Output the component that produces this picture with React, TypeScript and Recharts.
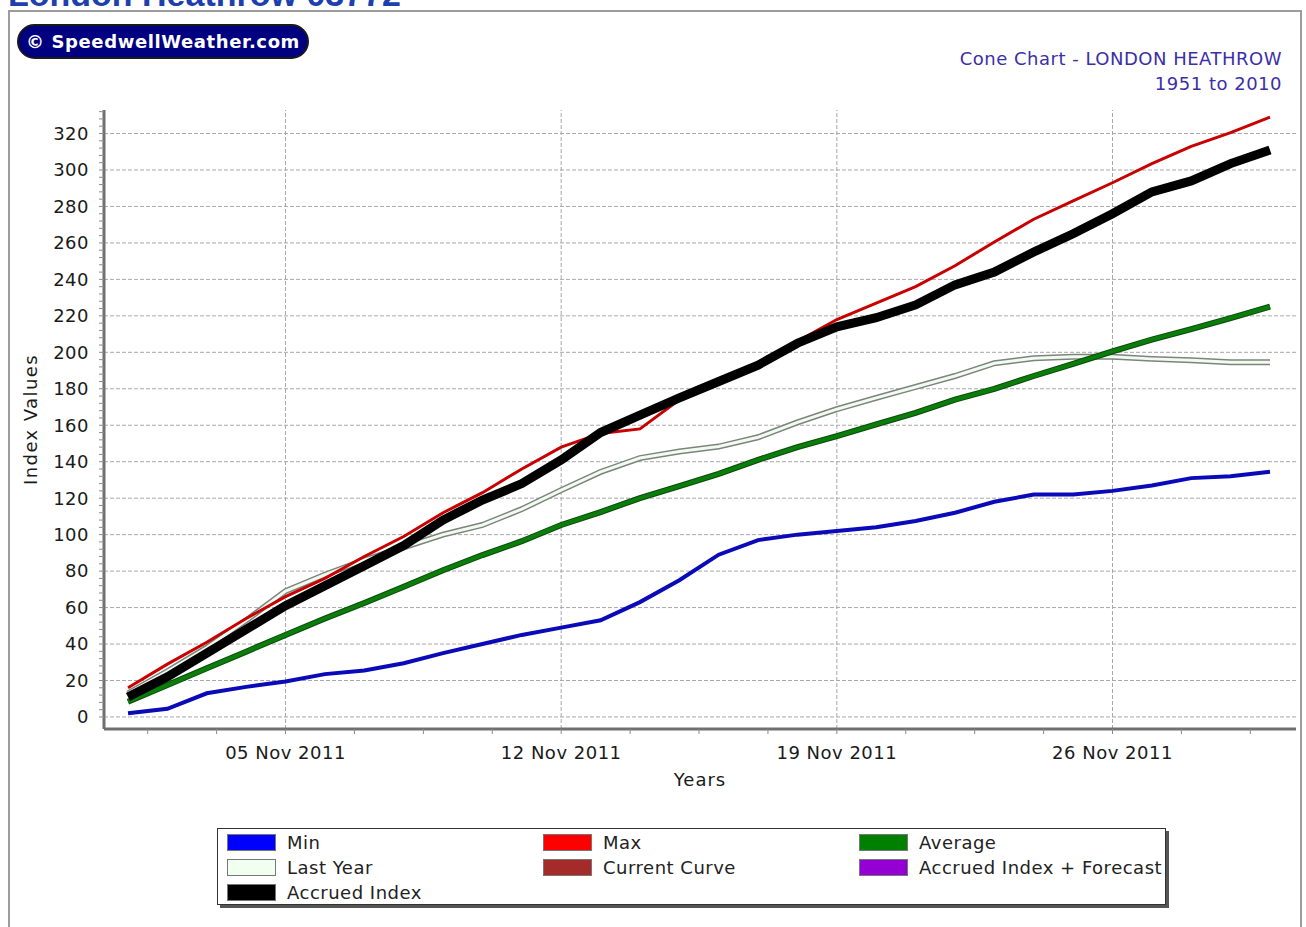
import { LineChart, Line, XAxis, YAxis, ReferenceLine, Label } from "recharts";

const days = [1, 2, 3, 4, 5, 6, 7, 8, 9, 10, 11, 12, 13, 14, 15, 16, 17, 18, 19, 20, 21, 22, 23, 24, 25, 26, 27, 28, 29, 30];
const minValues = [2, 4.5, 13, 16.5, 19.5, 23.5, 25.5, 29.5, 35, 40, 45, 49, 53, 63, 75, 89, 97, 100, 102, 104, 107.5, 112, 118, 122, 122, 124, 127, 131, 132, 134.5];
const maxValues = [16, 29, 41, 54, 66, 76, 88, 99, 112, 123, 136, 148, 155.5, 158, 174, 184, 194, 206, 218, 227, 236, 247.5, 260.5, 273, 283, 293, 303.5, 313, 320.5, 329];
const averageValues = [8.4, 17.5, 26.7, 35.8, 45, 54, 62.5, 71.4, 80.5, 88.8, 96.4, 105.3, 112.4, 120, 126.6, 133.3, 141, 148, 154, 160.5, 166.8, 174, 180, 187, 193.7, 200.5, 207, 212.7, 218.8, 225];
const lastYearValues = [13, 25, 38, 53, 69, 78, 86, 93, 100, 105.3, 114, 124.4, 134.4, 142, 145.6, 148.3, 153.4, 161.6, 168.8, 175, 181, 187, 194, 196.7, 197.5, 197.5, 196.4, 195.6, 194.6, 194.6];
const accruedValues = [11, 22, 35, 48, 61, 72, 83, 94, 108, 119, 128, 141, 156, 165.5, 175, 184, 193, 205, 214, 219, 226, 237, 244, 255, 265, 276, 288, 294, 303.5, 311];

const xTicks = [1.5, 3.25, 5, 6.75, 8.5, 10.25, 12, 13.75, 15.5, 17.25, 19, 20.75, 22.5, 24.25, 26, 27.75, 29.5];
const dateTicks = [5, 12, 19, 26];
const dateLabels = ["05 Nov 2011", "12 Nov 2011", "19 Nov 2011", "26 Nov 2011"];
const yGridValues = [0, 20, 40, 60, 80, 100, 120, 140, 160, 180, 200, 220, 240, 260, 280, 300, 320];
const yTicks = Array.from({ length: 84 }, (_, i) => i * 4);

const legendItems = [
  { name: "Min", color: "#0000ff" },
  { name: "Max", color: "#ff0000" },
  { name: "Average", color: "#008000" },
  { name: "Last Year", color: "#f0fff0" },
  { name: "Current Curve", color: "#a52a2a" },
  { name: "Accrued Index + Forecast", color: "#9400d3" },
  { name: "Accrued Index", color: "#000000" },
];

const rows = days.map((day, i) => ({
  day,
  min: minValues[i],
  max: maxValues[i],
  average: averageValues[i],
  lastYear: lastYearValues[i],
  accrued: accruedValues[i],
}));

const font = "'DejaVu Sans', Verdana, sans-serif";
const tickStyle = { fill: "#1a1a1a", fontSize: 18, fontFamily: font, letterSpacing: 0.5 };
const gridStroke = "#a8a8a8";

const formatDay = (v: number) => {
  const i = dateTicks.indexOf(v);
  return i >= 0 ? dateLabels[i] : "";
};

const ChartLegend = () => (
  <div
    style={{
      position: "absolute",
      left: 217,
      top: 828,
      width: 949,
      height: 77,
      border: "1px solid #333",
      boxShadow: "3px 3px 0 #555",
      background: "#fff",
      display: "grid",
      gridTemplateColumns: "316px 316px 316px",
      gridAutoRows: "25px",
      padding: "1px 0 0 9px",
      boxSizing: "border-box",
      fontFamily: font,
      fontSize: 18,
      letterSpacing: 0.5,
      color: "#222",
    }}
  >
    {legendItems.map((item) => (
      <div key={item.name} style={{ display: "flex", alignItems: "center", height: 25 }}>
        <span
          style={{
            display: "inline-block",
            width: 47,
            height: 15,
            background: item.color,
            border: "1px solid #777",
            marginRight: 11,
          }}
        />
        <span>{item.name}</span>
      </div>
    ))}
  </div>
);

export default function App() {
  return (
    <div style={{ position: "fixed", left: 0, top: 0, width: 1306, height: 927, overflow: "hidden", background: "#fff" }}>
      <div
        style={{
          position: "absolute",
          left: 8,
          top: -23,
          fontFamily: "'Liberation Sans', Arial, sans-serif",
          fontWeight: "bold",
          fontSize: 34,
          lineHeight: "34px",
          color: "#1e3fae",
          whiteSpace: "nowrap",
        }}
      >
        London Heathrow 03772
      </div>
      <div
        style={{
          position: "absolute",
          left: 8,
          top: 10,
          width: 1294,
          height: 1000,
          border: "2px solid #9c9c9c",
          boxSizing: "border-box",
        }}
      />
      <div
        style={{
          position: "absolute",
          left: 17,
          top: 24,
          width: 292,
          height: 35,
          background: "#000080",
          border: "2px solid #1a1a1a",
          borderRadius: 18,
          boxSizing: "border-box",
          color: "#fff",
          fontFamily: font,
          fontWeight: "bold",
          fontSize: 18,
          letterSpacing: 0.6,
          lineHeight: "31px",
          textAlign: "center",
          whiteSpace: "nowrap",
        }}
      >
        © SpeedwellWeather.com
      </div>
      <div
        style={{
          position: "absolute",
          right: 24,
          top: 46,
          fontFamily: font,
          fontSize: 18,
          lineHeight: "25px",
          letterSpacing: 0.5,
          color: "#3b2fa8",
          textAlign: "right",
          whiteSpace: "nowrap",
        }}
      >
        <div>Cone Chart - LONDON HEATHROW</div>
        <div>1951 to 2010</div>
      </div>

      <div style={{ position: "absolute", left: 0, top: 0 }}>
        <LineChart width={1306} height={927} data={rows} margin={{ top: 110, right: 10, bottom: 158, left: 0 }}>
          <XAxis
            type="number"
            dataKey="day"
            domain={[0.39, 30.66]}
            allowDataOverflow
            ticks={xTicks}
            interval={0}
            tickFormatter={formatDay}
            tick={tickStyle}
            tickSize={5}
            tickMargin={12}
            tickLine={{ stroke: "#8a8a8a" }}
            axisLine={{ stroke: "#707070", strokeWidth: 3 }}
            height={40}
          >
            <Label
              value="Years"
              position="bottom"
              offset={4}
              fill="#1a1a1a"
              fontSize={18}
              fontFamily={font}
              style={{ letterSpacing: 1 }}
            />
          </XAxis>
          <YAxis
            type="number"
            domain={[-6.6, 332.9]}
            allowDataOverflow
            ticks={yTicks}
            interval={0}
            tickFormatter={(v: number) => (v % 20 === 0 ? String(v) : "")}
            tick={tickStyle}
            tickSize={5}
            tickMargin={10}
            tickLine={{ stroke: "#8a8a8a" }}
            axisLine={{ stroke: "#707070", strokeWidth: 3 }}
            width={104}
          >
            <Label
              value="Index Values"
              angle={-90}
              position="insideLeft"
              offset={31}
              fill="#1a1a1a"
              fontSize={18}
              fontFamily={font}
              style={{ textAnchor: "middle", letterSpacing: 1.4 }}
            />
          </YAxis>
          {yGridValues.map((v) => (
            <ReferenceLine key={`h${v}`} y={v} stroke={gridStroke} strokeDasharray="4 2" />
          ))}
          {dateTicks.map((v) => (
            <ReferenceLine key={`v${v}`} x={v} stroke={gridStroke} strokeDasharray="4 2" />
          ))}
          <Line dataKey="min" stroke="#0a0ab8" strokeWidth={4} dot={false} activeDot={false} isAnimationActive={false} />
          <Line dataKey="lastYear" stroke="#7c847c" strokeWidth={6} dot={false} activeDot={false} isAnimationActive={false} />
          <Line dataKey="lastYear" stroke="#f2fbf2" strokeWidth={3} dot={false} activeDot={false} isAnimationActive={false} />
          <Line dataKey="average" stroke="#0b4a0b" strokeWidth={6} dot={false} activeDot={false} isAnimationActive={false} />
          <Line dataKey="average" stroke="#0a7d0a" strokeWidth={4} dot={false} activeDot={false} isAnimationActive={false} />
          <Line dataKey="max" stroke="#c80000" strokeWidth={3} dot={false} activeDot={false} isAnimationActive={false} />
          <Line dataKey="accrued" stroke="#000000" strokeWidth={9} dot={false} activeDot={false} isAnimationActive={false} />
        </LineChart>
      </div>

      <ChartLegend />
    </div>
  );
}
